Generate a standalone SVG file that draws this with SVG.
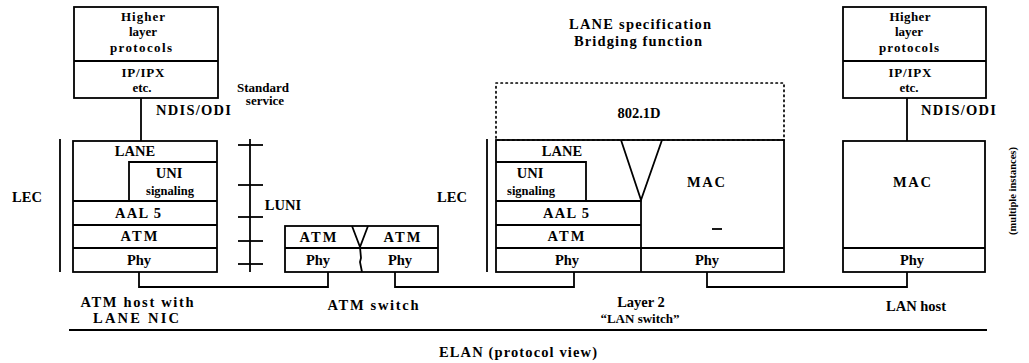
<svg xmlns="http://www.w3.org/2000/svg" width="1029" height="363" viewBox="0 0 1029 363">
<style>
.b{fill:none;stroke:#000;stroke-width:1.8}
.ln{fill:none;stroke:#000;stroke-width:1.8}
.dot{fill:none;stroke:#000;stroke-width:1.7;stroke-dasharray:1.4 3.6;stroke-linecap:round}
text{font-family:"Liberation Serif","Times New Roman",serif;font-weight:bold;font-size:14.5px;fill:#000;text-anchor:middle}
.s{font-size:13px}
.sg{font-size:12.5px}
.xs{font-size:10.5px}
.st{text-anchor:start}
</style>
<rect width="1029" height="363" fill="#fff"/>

<g id="left-host">
  <rect class="b" x="74" y="7" width="144" height="91"/>
  <line class="ln" x1="74" y1="61" x2="218" y2="61"/>
  <text class="s" x="143" y="21" textLength="44" lengthAdjust="spacing">Higher</text>
  <text class="s" x="143" y="36">layer</text>
  <text class="s" x="141" y="52" textLength="62" lengthAdjust="spacing">protocols</text>
  <text class="s" x="143" y="77" textLength="43" lengthAdjust="spacing">IP/IPX</text>
  <text class="s" x="142" y="92">etc.</text>
  <rect class="b" x="73" y="141" width="144" height="131"/>
  <text x="135" y="156">LANE</text>
  <polyline class="ln" points="129,201 129,162 217,162"/>
  <text x="169" y="178">UNI</text>
  <text class="sg" x="170" y="195">signaling</text>
  <line class="ln" x1="73" y1="201" x2="217" y2="201"/>
  <text x="138" y="218" textLength="46" lengthAdjust="spacing">AAL 5</text>
  <line class="ln" x1="73" y1="225" x2="217" y2="225"/>
  <text x="139" y="241" textLength="37" lengthAdjust="spacing">ATM</text>
  <line class="ln" x1="73" y1="248" x2="217" y2="248"/>
  <text x="139" y="265">Phy</text>
</g>

<g id="atm-switch">
  <rect class="b" x="285" y="226" width="153" height="46"/>
  <line class="ln" x1="285" y1="248" x2="438" y2="248"/>
  <polyline class="ln" points="352,226 360,247 368,226"/>
  <polyline class="ln" points="360,247 361,258 360,262 362,272"/>
  <text x="318" y="242" textLength="37" lengthAdjust="spacing">ATM</text>
  <text x="402" y="242" textLength="37" lengthAdjust="spacing">ATM</text>
  <text x="318" y="265">Phy</text>
  <text x="400" y="265">Phy</text>
</g>

<g id="lane-switch">
  <rect class="dot" x="496" y="83" width="288" height="57"/>
  <text x="639" y="118">802.1D</text>
  <rect class="b" x="496" y="140" width="288" height="132"/>
  <text x="562" y="156">LANE</text>
  <polyline class="ln" points="496,162 586,162 586,201"/>
  <text x="530" y="178">UNI</text>
  <text class="sg" x="531" y="195">signaling</text>
  <polyline class="ln" points="621,140 641,200 662,140"/>
  <line class="ln" x1="641" y1="200" x2="641" y2="272"/>
  <line class="ln" x1="496" y1="201" x2="641" y2="201"/>
  <text x="566" y="218" textLength="46" lengthAdjust="spacing">AAL 5</text>
  <line class="ln" x1="496" y1="225" x2="641" y2="225"/>
  <text x="566" y="241" textLength="37" lengthAdjust="spacing">ATM</text>
  <line class="ln" x1="496" y1="248" x2="784" y2="248"/>
  <text x="567" y="265">Phy</text>
  <text x="706" y="187" textLength="38" lengthAdjust="spacing">MAC</text>
  <line class="ln" x1="712" y1="229" x2="722" y2="229"/>
  <text x="707" y="265">Phy</text>
</g>

<g id="lan-host">
  <rect class="b" x="843" y="7" width="143" height="91"/>
  <line class="ln" x1="843" y1="61" x2="986" y2="61"/>
  <text class="s" x="910" y="21" textLength="41" lengthAdjust="spacing">Higher</text>
  <text class="s" x="909" y="36">layer</text>
  <text class="s" x="909" y="52" textLength="60" lengthAdjust="spacing">protocols</text>
  <text class="s" x="910" y="77" textLength="43" lengthAdjust="spacing">IP/IPX</text>
  <text class="s" x="909" y="92">etc.</text>
  <rect class="b" x="843" y="141" width="142" height="131"/>
  <line class="ln" x1="843" y1="248" x2="985" y2="248"/>
  <text x="912" y="187" textLength="38" lengthAdjust="spacing">MAC</text>
  <text x="912" y="265">Phy</text>
</g>

<g id="connectors">
  <line class="ln" x1="141" y1="98" x2="141" y2="141"/>
  <line class="ln" x1="907" y1="98" x2="907" y2="141"/>
  <polyline class="ln" points="139,272 139,287 328,287 328,272"/>
  <polyline class="ln" points="395,272 395,287 574,287 574,272"/>
  <polyline class="ln" points="707,272 707,287 907,287 907,272"/>
</g>

<g id="annotations">
  <text class="st" x="156" y="115" textLength="75" lengthAdjust="spacing">NDIS/ODI</text>
  <text class="st" x="921" y="115" textLength="75" lengthAdjust="spacing">NDIS/ODI</text>
  <text class="s" x="263" y="92">Standard</text>
  <text class="s" x="265" y="105">service</text>
  <line class="ln" x1="60" y1="139" x2="60" y2="272"/>
  <text x="27" y="202">LEC</text>
  <line class="ln" x1="487" y1="139" x2="487" y2="272"/>
  <text x="452" y="202">LEC</text>
  <line class="ln" x1="250" y1="139" x2="250" y2="272"/>
  <line class="ln" x1="238" y1="145" x2="263" y2="145"/>
  <line class="ln" x1="238" y1="185" x2="263" y2="185"/>
  <line class="ln" x1="238" y1="217" x2="263" y2="217"/>
  <line class="ln" x1="238" y1="241" x2="263" y2="241"/>
  <line class="ln" x1="238" y1="264" x2="263" y2="264"/>
  <text x="283" y="210">LUNI</text>
  <text x="640" y="29" textLength="142" lengthAdjust="spacing">LANE specification</text>
  <text x="638" y="46" textLength="128" lengthAdjust="spacing">Bridging function</text>
  <text class="xs" transform="translate(1016,191) rotate(-90)">(multiple instances)</text>
  <text x="137" y="307" textLength="113" lengthAdjust="spacing">ATM host with</text>
  <text x="136" y="323" textLength="86" lengthAdjust="spacing">LANE NIC</text>
  <text x="373" y="310" textLength="91" lengthAdjust="spacing">ATM switch</text>
  <text x="641" y="307">Layer 2</text>
  <text class="s" x="640" y="323">“LAN switch”</text>
  <text x="916" y="311">LAN host</text>
  <line class="ln" x1="69" y1="330" x2="987" y2="330"/>
  <text x="518" y="357" textLength="158" lengthAdjust="spacing">ELAN (protocol view)</text>
</g>
</svg>
